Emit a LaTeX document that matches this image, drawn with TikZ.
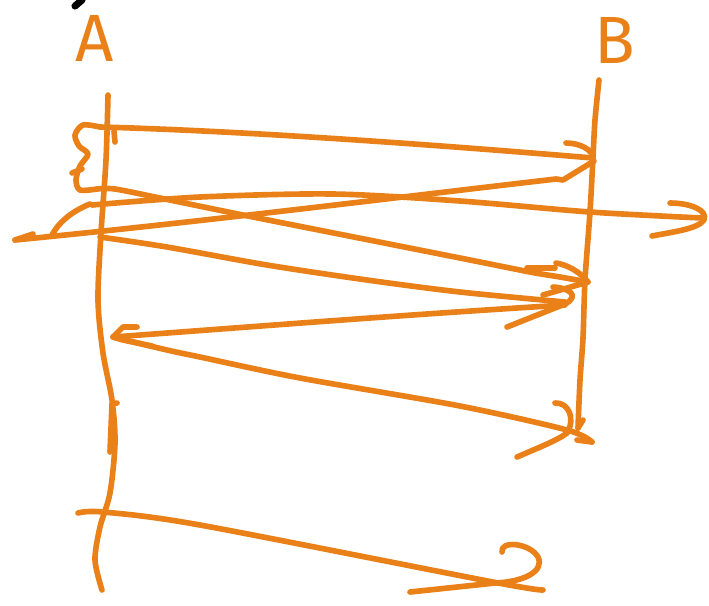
\documentclass[tikz,border=0pt]{standalone}
\usepackage{fontspec}
\setsansfont{Fira Sans}
\definecolor{penorange}{RGB}{234,128,24}
\tikzset{
  pen/.style={draw=penorange,line width=1.6pt,line cap=round,line join=round},
  lbl/.style={text=penorange,font=\sffamily\fontsize{19}{19}\selectfont,inner sep=0pt},
}

\begin{document}
\begin{tikzpicture}[x=0.01cm,y=-0.01cm]
 \useasboundingbox (0,0) rectangle (709,605);
 \draw[line width=2pt,line cap=round](82,0)--(75,6);
 \node[lbl] (A) at (95,38) {A};
 \node[lbl] (B) at (615,40) {B};
 % time lines
 \coordinate (a0) at (108,95);
 \coordinate (a9) at (102,590);
 \coordinate (b0) at (599,80);
 \coordinate (b9) at (578,428);
 \draw[pen] plot[smooth] coordinates {(a0) (106,160) (101,233) (98,300) (103,353) (112,400) (115,443) (110,493) (100,527) (95,560) (a9)};
 \draw[pen](117,403)--(112,404)--(110,452);
 \draw[pen] plot[smooth] coordinates {(b0) (595,120) (593,157) (590,212) (585,280) (583,338) (580,380) (b9)};
 \draw[pen](583,420)--(b9);
 % timer bracket
 \draw[pen] plot[smooth] coordinates {(100,127) (83,125) (75,135) (79,146) (88,154) (80,166) (76,180) (80,190) (97,189)};
 \draw[pen](72,173)--(82,169);
 \draw[pen](114,131)--(115,142);
 % messages
 \coordinate (m1s) at (100,127);
 \coordinate (m1e) at (593,158);
 \draw[pen](m1s) .. controls (250,131) and (450,146) .. (m1e);
 \draw[pen](566,143) .. controls (580,143) and (593,150) .. (m1e);
 \coordinate (m2e) at (15,240);
 \draw[pen](594,161)--(563,180)--(556,179) .. controls (400,197) and (200,222) .. (m2e);
 \draw[pen](m2e)--(33,234);
 \coordinate (m3s) at (52,235);
 \coordinate (m3e) at (702,218);
 \draw[pen](m3s) .. controls (60,220) and (75,210) .. (90,204);
 \draw[pen] plot[smooth] coordinates {(92,205) (200,197) (333,194) (460,201) (590,212) (m3e)};
 \draw[pen](670,203) .. controls (690,203) and (708,210) .. (704,220) .. controls (698,229) and (672,232) .. (652,236);
 \coordinate (m4s) at (97,189);
 \coordinate (m4e) at (588,282);
 \draw[pen] plot[smooth] coordinates {(m4s) (115,189) (160,198) (253,217) (460,258) (530,272) (560,277) (m4e)};
 \draw[pen](556,263) .. controls (568,265) and (580,272) .. (m4e)--(543,295);
 \draw[pen](527,268)--(555,268);
 \coordinate (m5s) at (100,237);
 \coordinate (m5e) at (565,302);
 \draw[pen] plot[smooth] coordinates {(m5s) (167,247) (267,265) (367,280) (460,292) (m5e)};
 \draw[pen](553,287) .. controls (570,288) and (580,296) .. (565,304)--(507,327);
 \coordinate (m6e) at (113,337);
 \draw[pen](565,305) .. controls (400,315) and (250,327) .. (m6e);
 \draw[pen](137,327)--(123,327)--(m6e)--(123,340)--(152,346);
 \coordinate (m7e) at (592,442);
 \draw[pen] plot[smooth] coordinates {(m6e) (167,350) (200,357) (300,378) (460,406) (567,430) (m7e)};
 \draw[pen](m7e)--(577,440);
 \draw[pen](555,403) .. controls (568,402) and (576,418) .. (567,433);
 \draw[pen](517,457) .. controls (540,447) and (558,440) .. (567,433);
 \coordinate (m8s) at (78,513);
 \coordinate (m8e) at (543,590);
 \draw[pen] plot[smooth] coordinates {(m8s) (103,512) (200,525) (493,582) (m8e)};
 \draw[pen](502,552) .. controls (500,540) and (530,543) .. (538,557) .. controls (545,572) and (522,582) .. (495,583)--(410,592);
\end{tikzpicture}
\end{document}
